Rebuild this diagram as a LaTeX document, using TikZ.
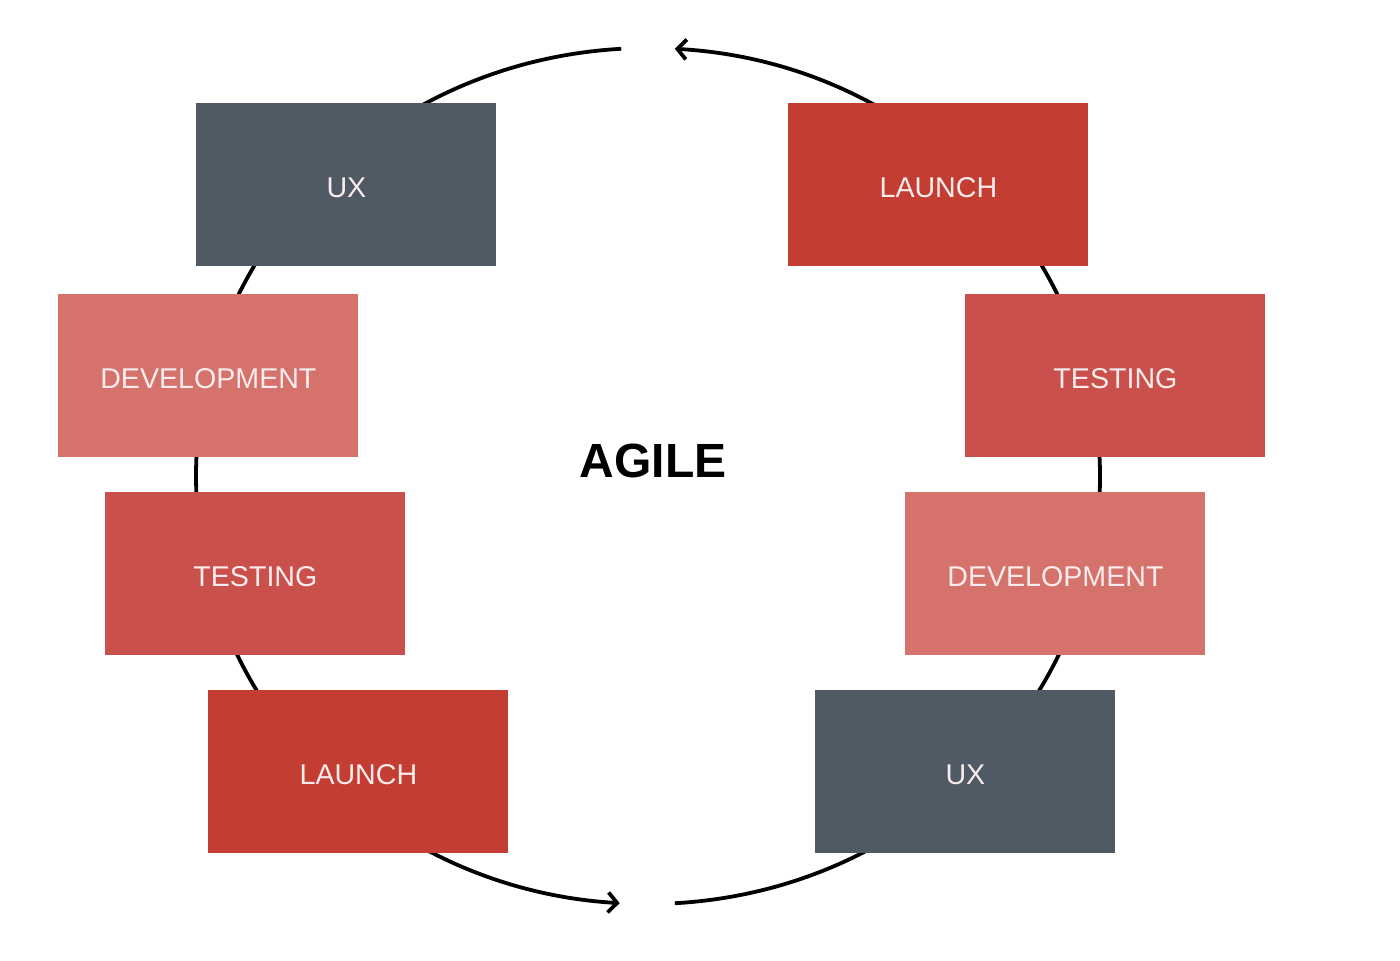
\documentclass[tikz,border=0pt]{standalone}
\usepackage{fontspec}
\setmainfont{Liberation Sans}
\usetikzlibrary{arrows.meta}
\definecolor{uxgray}{RGB}{79,90,101}
\definecolor{launchred}{RGB}{195,61,50}
\definecolor{testred}{RGB}{202,80,75}
\definecolor{devred}{RGB}{213,114,108}
\definecolor{boxtext}{RGB}{250,236,236}
\tikzset{
  phase/.style={minimum width=150pt, minimum height=81.5pt, inner sep=0pt, anchor=north west,
    text=boxtext, font=\fontsize{14.3}{16}\selectfont, text height=13pt, text depth=0pt},
  uxbox/.style={phase, fill=uxgray},
  launchbox/.style={phase, fill=launchred},
  testbox/.style={phase, fill=testred},
  devbox/.style={phase, fill=devred},
  cycle/.style={line width=1.9pt, -{Straight Barb[length=4.5pt,width=10pt,line width=1.9pt]}},
}
\begin{document}
\begin{tikzpicture}[x=0.5pt,y=-0.5pt]
\fill[white] (0,0) rectangle (1400,960);
\useasboundingbox (0,0) rectangle (1400,960);
\coordinate (c) at (648,476);
% cycle arcs
\draw[cycle] (c) ++(266.6:452 and 428) coordinate (topL)
  arc[start angle=266.6, end angle=93.6, x radius=452, y radius=428] coordinate (botL);
\draw[cycle] (c) ++(86.6:452 and 428) coordinate (botR)
  arc[start angle=86.6, end angle=-86.6, x radius=452, y radius=428] coordinate (topR);
% left column
\node[uxbox] (uxL) at (196,103) {UX};
\node[devbox] (devL) at (58,294) {DEVELOPMENT};
\node[testbox] (testL) at (105,492) {TESTING};
\node[launchbox] (launchL) at (208,690) {LAUNCH};
% right column
\node[launchbox] (launchR) at (788,103) {LAUNCH};
\node[testbox] (testR) at (965,294) {TESTING};
\node[devbox] (devR) at (905,492) {DEVELOPMENT};
\node[uxbox] (uxR) at (815,690) {UX};
% title
\node[font=\bfseries\fontsize{24}{28}\selectfont] (agile) at (653,461) {AGILE};
\end{tikzpicture}
\end{document}
